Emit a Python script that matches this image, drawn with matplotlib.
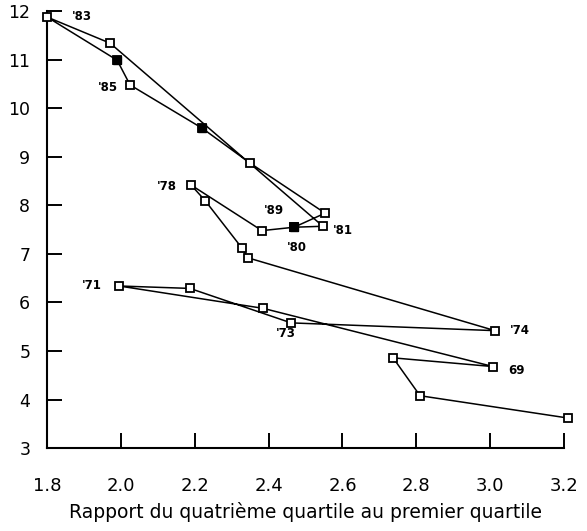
import matplotlib
matplotlib.use("Agg")
import matplotlib.pyplot as plt

# years 1966-1989, path in chronological order
years = list(range(1966, 1990))
ratio = [3.211, 2.810, 2.737, 3.008, 2.385, 1.995, 2.187, 2.461, 3.013,
         2.344, 2.328, 2.228, 2.190, 2.382, 2.469, 2.547, 1.971, 1.800,
         1.990, 2.025, 2.220, 2.350, 2.553, 2.469]
rate = [3.62, 4.08, 4.86, 4.68, 5.88, 6.34, 6.29, 5.58, 5.42,
        6.92, 7.12, 8.10, 8.42, 7.48, 7.55, 7.57, 11.34, 11.88,
        10.99, 10.48, 9.59, 8.87, 7.84, 7.55]

xticks = [1.8, 2.0, 2.2, 2.4, 2.6, 2.8, 3.0, 3.2]
xticklabels = ["1.8", "2.0", "2.2", "2.4", "2.6", "2.8", "3.0", "3.2"]
yticks = list(range(3, 13))
xlabel = "Rapport du quatrième quartile au premier quartile"

# year labels: text, offset in pixels, alignment
year_labels = {
    1983: ("'83", (25, 0), "left"),
    1985: ("'85", (-12, -3), "right"),
    1978: ("'78", (-14, -2), "right"),
    1989: ("'89", (-20, 17), "center"),
    1980: ("'80", (3, -20), "center"),
    1981: ("'81", (10, -4), "left"),
    1971: ("'71", (-17, 0), "right"),
    1973: ("'73", (-5, -11), "center"),
    1974: ("'74", (15, 0), "left"),
    1969: ("69", (15, -4), "left"),
    1966: ("66", (-2, 18), "center"),
}
filled_years = [1980, 1984, 1986]

fig = plt.figure(figsize=(5.87, 5.31), dpi=100)
ax = fig.add_axes([0.080, 0.156, 0.881, 0.823])

ax.plot(ratio, rate, color="black", lw=1.1, marker="s", ms=5.5,
        mfc="white", mec="black", mew=1.3, zorder=3, clip_on=False)
for yr in filled_years:
    i = years.index(yr)
    ax.plot(ratio[i], rate[i], marker="s", ms=6, color="black", zorder=4, clip_on=False)

for yr, (txt, off, ha) in year_labels.items():
    i = years.index(yr)
    ax.annotate(txt, (ratio[i], rate[i]), xytext=off, textcoords="offset pixels",
                ha=ha, va="center", fontsize=8.5, fontweight="bold")

ax.set_xlim(1.8, 3.2)
ax.set_ylim(3, 12)
ax.set_xticks(xticks)
ax.set_xticklabels(xticklabels)
ax.set_yticks(yticks)
ax.spines["top"].set_visible(False)
ax.spines["right"].set_visible(False)
ax.spines["left"].set_linewidth(1.5)
ax.spines["bottom"].set_linewidth(1.5)
ax.tick_params(axis="x", direction="in", length=11, width=1.4, pad=21, labelsize=13)
ax.tick_params(axis="y", direction="in", length=11, width=1.4, pad=12, labelsize=12.5)
ax.set_xlabel(xlabel, fontsize=13.5, labelpad=5)

fig.savefig("out.png", dpi=100)
